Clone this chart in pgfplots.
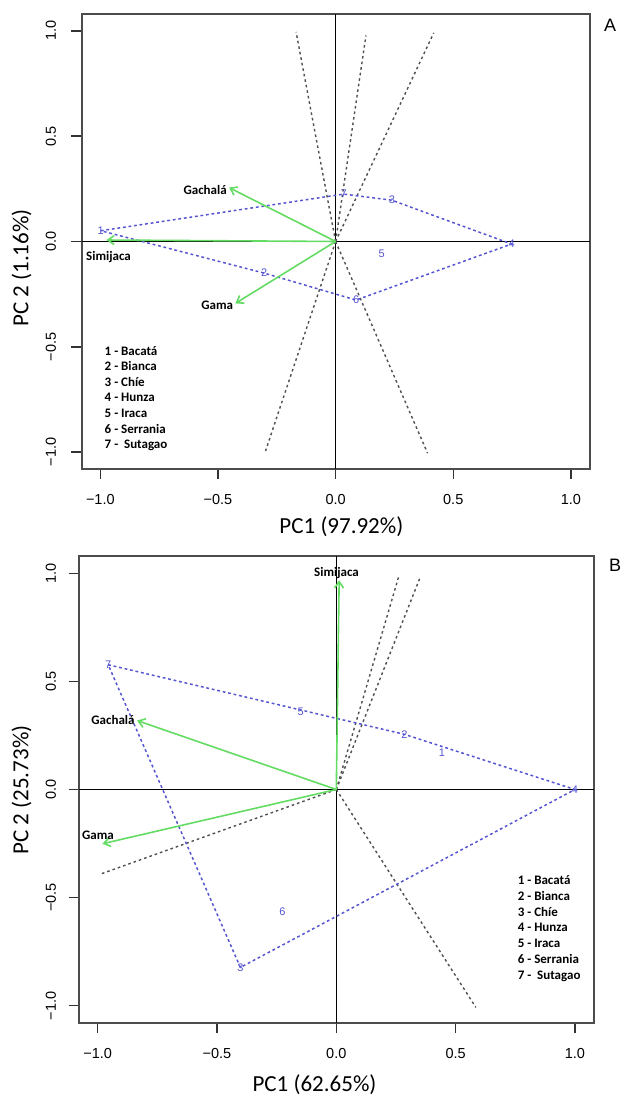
\documentclass[border=0pt]{standalone}
\usepackage{fontspec}
\setmainfont{Carlito}
\newfontfamily\arial{Liberation Sans}
\usepackage{pgfplots}
\pgfplotsset{compat=1.18}
\usetikzlibrary{arrows.meta}

\definecolor{ptblue}{RGB}{85,85,210}
\definecolor{vecgreen}{RGB}{100,220,100}
\definecolor{secgray}{RGB}{80,80,80}

\pgfplotsset{biplot/.style={
  scale only axis, anchor=south west, clip=false,
  xmin=-1.08, xmax=1.08, ymin=-1.08, ymax=1.08,
  xtick={-1,-0.5,0,0.5,1}, ytick={-1,-0.5,0,0.5,1},
  xticklabels={−1.0,−0.5,0.0,0.5,1.0},
  yticklabels={−1.0,−0.5,0.0,0.5,1.0},
  tick pos=left, tick align=outside, major tick length=5pt,
  tick style={black!80, line width=0.7pt},
  axis line style={draw=black!70, line width=1pt},
  ticklabel style={font=\arial\fontsize{7.25}{8}\selectfont},
  yticklabel style={rotate=90, anchor=south},
  xticklabel shift=4pt,
  every axis plot/.append style={line width=0.75pt},
}}
\tikzset{
  lab/.style={font=\bfseries\fontsize{6.5}{7.8}\selectfont, inner sep=0pt, text height=0.644em, text depth=0pt},
  axlab/.style={font=\fontsize{11.5}{13}\selectfont, inner sep=0pt, text height=0.644em, text depth=0pt},
  zero/.style={black, line width=0.8pt},
  sector/.style={secgray, dash pattern=on 1.3pt off 1.5pt, line width=0.7pt},
  hull/.style={ptblue, dash pattern=on 1.4pt off 1.4pt, line width=0.75pt},
  vec/.style={vecgreen, line width=0.8pt, -{Straight Barb[length=3.2pt, width=4.5pt]}},
}
\pgfplotsset{numlabels/.style={draw=none, mark=none, nodes near coords, point meta=explicit symbolic,
  nodes near coords style={anchor=center, inner sep=0pt, text=ptblue, font=\arial\fontsize{5.5}{6}\selectfont}}}

\begin{document}
\begin{tikzpicture}
\path[use as bounding box] (0,0) rectangle (311pt,548pt);

% ---------------- panel A ----------------
\begin{axis}[biplot, at={(40.75pt,313.5pt)}, width=254.1pt, height=227.5pt, yticklabel shift=4.2pt]
\addplot[zero] coordinates {(-1.08,0) (1.08,0)};
\addplot[zero] coordinates {(0,-1.08) (0,1.08)};
\addplot[sector] coordinates {(0,0) (-0.168,0.995)};
\addplot[sector] coordinates {(0,0) (0.129,0.978)};
\addplot[sector] coordinates {(0,0) (0.417,0.990)};
\addplot[sector] coordinates {(0,0) (-0.301,-1.005)};
\addplot[sector] coordinates {(0,0) (0.391,-1.005)};
% polygon 1-7-3-4-6-2
\addplot[hull] coordinates {(-0.998,0.051) (0.034,0.225) (0.239,0.196) (0.748,-0.012) (0.087,-0.278) (-0.304,-0.150) (-0.998,0.051)};
\addplot[numlabels] table[meta=lab] {
x y lab
-0.998 0.051 1
-0.304 -0.147 2
0.239 0.196 3
0.748 -0.012 4
0.196 -0.057 5
0.087 -0.278 6
0.034 0.225 7
};
\addplot[vec] coordinates {(0,0) (-0.453,0.256)};
\addplot[vec] coordinates {(0,0) (-0.974,0.007)};
\addplot[vec] coordinates {(0,0) (-0.426,-0.294)};
\node[lab, anchor=east] at (axis cs:-0.461,0.256) {Gachalá};
\node[lab] at (axis cs:-0.965,-0.060) {Simijaca};
\node[lab, anchor=east] at (axis cs:-0.434,-0.292) {Gama};
\node[lab, anchor=west] at (axis cs:-0.983,-0.510) {1 - Bacatá};
\node[lab, anchor=west] at (axis cs:-0.983,-0.584) {2 - Bianca};
\node[lab, anchor=west] at (axis cs:-0.983,-0.658) {3 - Chíe};
\node[lab, anchor=west] at (axis cs:-0.983,-0.731) {4 - Hunza};
\node[lab, anchor=west] at (axis cs:-0.983,-0.805) {5 - Iraca};
\node[lab, anchor=west] at (axis cs:-0.983,-0.879) {6 - Serrania};
\node[lab, anchor=west] at (axis cs:-0.983,-0.953) {7 -\ \ Sutagao};
\end{axis}

% ---------------- panel B ----------------
\begin{axis}[biplot, at={(39.3pt,36.5pt)}, width=257.7pt, height=233.5pt, yticklabel shift=2.8pt]
\addplot[zero] coordinates {(-1.08,0) (1.08,0)};
\addplot[zero] coordinates {(0,-1.08) (0,1.08)};
\addplot[sector] coordinates {(0,0) (0.261,0.983)};
\addplot[sector] coordinates {(0,0) (0.352,0.983)};
\addplot[sector] coordinates {(0,0) (-0.985,-0.390)};
\addplot[sector] coordinates {(0,0) (0.585,-1.008)};
% polygon 7-2-4-3
\addplot[hull] coordinates {(-0.956,0.577) (0.286,0.255) (1.0,0.0) (-0.402,-0.823) (-0.956,0.577)};
\addplot[numlabels] table[meta=lab] {
x y lab
0.443 0.168 1
0.286 0.255 2
-0.402 -0.823 3
1.0 0.0 4
-0.149 0.361 5
-0.226 -0.563 6
-0.956 0.577 7
};
\addplot[vec] coordinates {(0,0) (0.012,0.968)};
\addplot[vec] coordinates {(0,0) (-0.835,0.319)};
\addplot[vec] coordinates {(0,0) (-0.980,-0.251)};
\node[lab] at (axis cs:0.001,1.017) {Simijaca};
\node[lab] at (axis cs:-0.936,0.330) {Gachalá};
\node[lab] at (axis cs:-0.999,-0.200) {Gama};
\node[lab, anchor=west] at (axis cs:0.759,-0.409) {1 - Bacatá};
\node[lab, anchor=west] at (axis cs:0.759,-0.482) {2 - Bianca};
\node[lab, anchor=west] at (axis cs:0.759,-0.556) {3 - Chíe};
\node[lab, anchor=west] at (axis cs:0.759,-0.629) {4 - Hunza};
\node[lab, anchor=west] at (axis cs:0.759,-0.702) {5 - Iraca};
\node[lab, anchor=west] at (axis cs:0.759,-0.776) {6 - Serrania};
\node[lab, anchor=west] at (axis cs:0.759,-0.849) {7 -\ \ Sutagao};
\end{axis}

% axis titles and panel letters
\node[axlab] at (170.7pt,284.5pt) {PC1 (97.92\%)};
\node[axlab, rotate=90] at (11pt,414pt) {PC 2 (1.16\%)};
\node[axlab] at (157.25pt,5.5pt) {PC1 (62.65\%)};
\node[axlab, rotate=90] at (11pt,153pt) {PC 2 (25.73\%)};
\node[font=\arial\fontsize{9}{10}\selectfont, inner sep=0pt] at (305pt,535.5pt) {A};
\node[font=\arial\fontsize{9}{10}\selectfont, inner sep=0pt] at (307.5pt,265.5pt) {B};
\end{tikzpicture}
\end{document}
